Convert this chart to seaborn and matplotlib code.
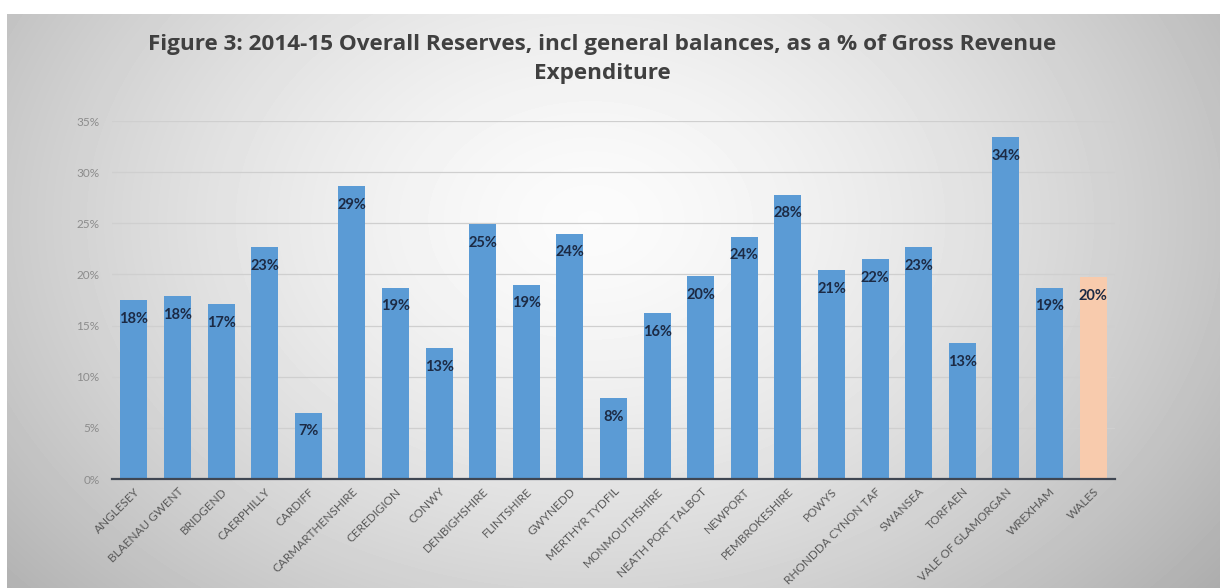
import numpy as np
import pandas as pd
import matplotlib
matplotlib.use("Agg")
import matplotlib.pyplot as plt
import seaborn as sns

# data (% of gross revenue expenditure)
councils = ["ANGLESEY", "BLAENAU GWENT", "BRIDGEND", "CAERPHILLY", "CARDIFF",
            "CARMARTHENSHIRE", "CEREDIGION", "CONWY", "DENBIGHSHIRE", "FLINTSHIRE",
            "GWYNEDD", "MERTHYR TYDFIL", "MONMOUTHSHIRE", "NEATH PORT TALBOT",
            "NEWPORT", "PEMBROKESHIRE", "POWYS", "RHONDDA CYNON TAF", "SWANSEA",
            "TORFAEN", "VALE OF GLAMORGAN", "WREXHAM", "WALES"]
reserves = [17.5, 17.9, 17.1, 22.7, 6.5, 28.6, 18.7, 12.8, 24.9, 19.0,
            24.0, 7.9, 16.2, 19.8, 23.7, 27.8, 20.4, 21.5, 22.7, 13.3,
            33.4, 18.7, 19.7]
labels = ["18%", "18%", "17%", "23%", "7%", "29%", "19%", "13%", "25%", "19%",
          "24%", "8%", "16%", "20%", "24%", "28%", "21%", "22%", "23%", "13%",
          "34%", "19%", "20%"]
ytick_vals = [0, 5, 10, 15, 20, 25, 30, 35]

df = pd.DataFrame({"council": councils, "pct": np.array(reserves) / 100})
colors = ["#5B9BD5"] * (len(councils) - 1) + ["#F8CBAD"]

plt.rcParams["font.family"] = ["Lato", "DejaVu Sans"]

fig = plt.figure(figsize=(12.2, 5.88), dpi=100)

# grey radial background like the original excel chart area
H, W = 588, 1220
yy, xx = np.mgrid[0:H, 0:W]
r = np.sqrt(((xx - 590) / 680.0) ** 2 + ((yy - 220) / 500.0) ** 2)
shade = 0.985 - 0.24 * np.clip(r, 0, 1.3) ** 1.5
shade[:14, :] = 1.0
shade[:, :7] = 1.0
bg = fig.add_axes([0, 0, 1, 1], zorder=-5)
bg.imshow(shade, cmap="gray", vmin=0, vmax=1, aspect="auto", interpolation="bilinear")
bg.axis("off")

ax = fig.add_axes([112 / 1220, 1 - 479 / 588, (1115 - 112) / 1220, (479 - 121) / 588])
ax.set_facecolor("none")

sns.barplot(data=df, x="council", y="pct", hue="council", palette=colors,
            legend=False, width=0.62, saturation=1, ax=ax)

ax.set_ylim(0, 0.35)
ax.set_yticks([v / 100 for v in ytick_vals])
ax.set_yticklabels([f"{v}%" for v in ytick_vals], color="#8c8c8c", fontsize=8.5)
ax.yaxis.grid(True, color="#cfcfcf", linewidth=0.9)
ax.set_axisbelow(True)
ax.tick_params(axis="y", length=0, pad=9)
ax.tick_params(axis="x", length=0, pad=5)
ax.set_xticks(range(len(councils)))
ax.set_xticklabels(councils, rotation=45, ha="right", rotation_mode="anchor",
                   color="#595959", fontsize=8.5)
ax.set_xlabel("")
ax.set_ylabel("")
for s in ["top", "right", "left"]:
    ax.spines[s].set_visible(False)
ax.spines["bottom"].set_color("#3f4652")
ax.spines["bottom"].set_linewidth(1.6)

for p, lab in zip(ax.patches, labels):
    ax.annotate(lab, (p.get_x() + p.get_width() / 2, p.get_height()),
                xytext=(0, -13.5), textcoords="offset points",
                ha="center", va="center", fontsize=10.5, fontweight="bold",
                color="#1c2a44")

fig.text(602 / 1220, 1 - 59 / 588,
         "Figure 3: 2014-15 Overall Reserves, incl general balances, as a % of Gross Revenue\nExpenditure",
         ha="center", va="center", fontsize=16.2, fontweight="bold", color="#404040",
         family=["Open Sans", "DejaVu Sans"], linespacing=1.45)

fig.savefig("out.png", dpi=100)
